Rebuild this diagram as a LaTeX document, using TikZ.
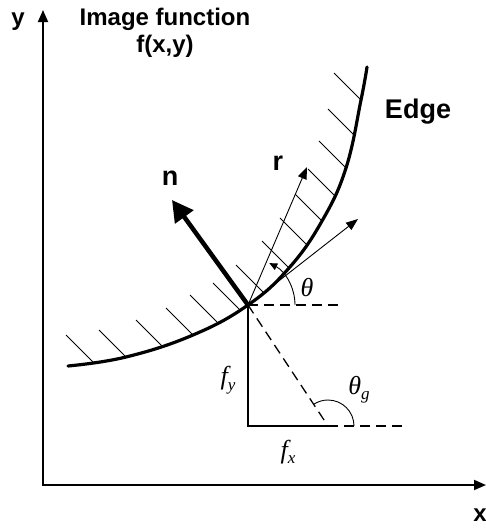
\documentclass[tikz,border=0pt]{standalone}
\usepackage{amsmath}
\usepackage{fontspec}
\setmainfont{Liberation Sans}
\newfontfamily\timesfont{Liberation Serif}
\usepackage{tikz}
\usetikzlibrary{arrows.meta,calc}
\newcommand{\sublab}[2]{#1\raisebox{-0.45ex}{\fontsize{17}{17}\selectfont #2}}
\tikzset{
  >={Triangle[length=12pt,width=9pt]},
  lab/.style={font=\fontsize{24}{27}\selectfont\bfseries,align=center,inner sep=0pt},
  blab/.style={lab,font=\fontsize{27}{30}\selectfont\bfseries},
  mlab/.style={font=\timesfont\itshape\fontsize{26}{28}\selectfont,inner sep=0pt},
  axis/.style={<->,line width=1.8pt,>={Triangle[length=12pt,width=10pt]}},
  vec/.style={->,line width=0.9pt},
  nvec/.style={->,line width=4.5pt,>={Triangle[length=21pt,width=22pt]}},
  dsh/.style={line width=1.3pt,dash pattern=on 10pt off 6pt},
  hatch/.style={line width=1pt},
  edgeline/.style={line width=3.2pt,line cap=round},
  thin/.style={line width=0.9pt},
  solid2/.style={line width=1.8pt},
}

\begin{document}
\begin{tikzpicture}[x=1pt,y=1pt]
\useasboundingbox (0,0) rectangle (486,-528);

% axes
\coordinate (O) at (43,-485);
\coordinate (ytip) at (43,-10);
\coordinate (xtip) at (486,-485);
\draw[axis] (ytip) -- (O) -- (xtip);
\node[lab] (ylab) at (18,-22) {y};
\node[lab] (xlab) at (480,-515) {x};
\node[lab] (title) at (165,-33) {Image function\\f(x,y)};

% edge with hatching
\coordinate (P) at (248,-305);
\draw[hatch] foreach \p in {(93,-362),(126,-357),(163,-347),(193,-335),(217,-322),(240,-310),
    (263,-292),(289,-268),(307,-245),(322,-221),(335,-196),(346,-168),(355,-136),(361,-100)}
  { \p -- ++(-27,27) };
\draw[edgeline] plot[smooth,tension=0.7] coordinates {(68,-366) (126,-357) (193,-335)
  (248,-305) (289,-268) (322,-221) (346,-168) (361,-100) (367,-67)};
\node[blab] (edgelab) at (418,-112) {Edge};

% vectors at the edge point
\coordinate (ntip) at (172,-200);
\coordinate (rtip) at (307,-167);
\coordinate (ttip) at (358,-219);
\coordinate (hend) at (338,-305);
\draw[nvec] (P) -- (ntip);
\draw[vec] (P) -- (rtip);
\draw[vec] (P) -- (ttip);
\draw[dsh] (P) -- (hend);
\draw[vec,>={Triangle[length=8pt,width=7pt]}] ($(P)+(47,0)$) arc[start angle=0,end angle=63,radius=47];
\node[blab] (nlab) at (170,-178) {n};
\node[blab] (rlab) at (278,-163) {r};
\node[mlab] (thlab) at (307,-288) {θ};

% gradient components
\coordinate (Q) at (248,-426);
\coordinate (G) at (328,-426);
\coordinate (gend) at (404,-426);
\draw[solid2] (P) -- (Q) -- (G);
\draw[dsh] (G) -- (gend);
\draw[dsh] (P) -- (G);
\draw[thin] ($(G)+(26,0)$) arc[start angle=0,end angle=124,radius=26];
\node[mlab] (fylab) at (228,-380) {\sublab{f}{y}};
\node[mlab] (fxlab) at (288,-452) {\sublab{f}{x}};
\node[mlab] (thglab) at (359,-390) {\sublab{θ}{g}};
\end{tikzpicture}
\end{document}
